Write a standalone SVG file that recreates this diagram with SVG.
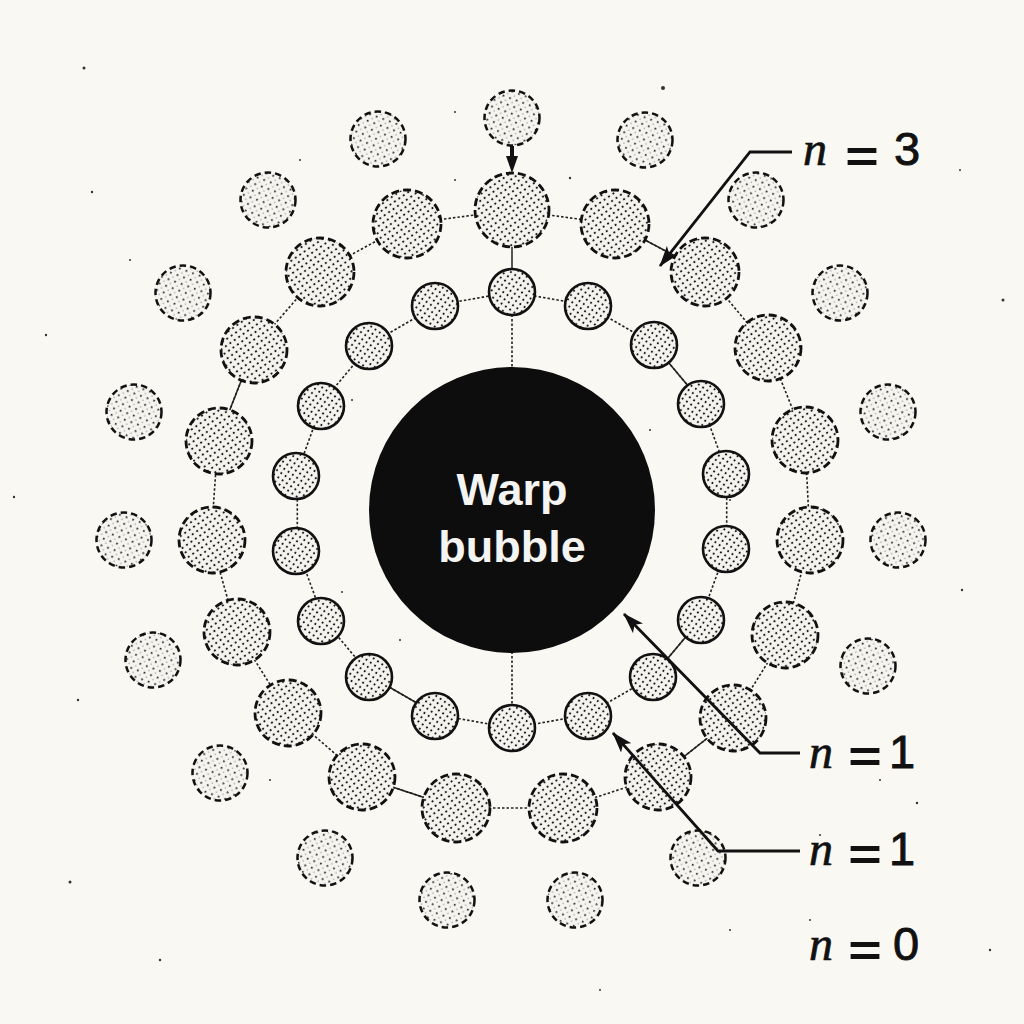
<svg xmlns="http://www.w3.org/2000/svg" width="1024" height="1024" viewBox="0 0 1024 1024">
<style>
.inner{stroke:#111;stroke-width:2.6;fill:url(#stipDense)}
.mid{stroke:#111;stroke-width:2.8;stroke-dasharray:8 4;fill:url(#stipMid)}
.outer{stroke:#111;stroke-width:2.5;stroke-dasharray:6.5 4;fill:url(#stipLight)}
.link{stroke:#222;stroke-width:1.6;stroke-dasharray:2.5 2;fill:none}
.solid{stroke:#222;stroke-width:1.5;fill:none}
.leader{stroke:#111;stroke-width:2.8;fill:none}
.nv{font-family:"Liberation Serif","DejaVu Serif",serif;font-style:italic;font-size:48px;fill:#111;stroke:#111;stroke-width:0.7}
.eq{font-family:"DejaVu Sans",sans-serif;font-size:46px;fill:#111;text-anchor:middle}
.dg{font-family:"Liberation Sans",Arial,sans-serif;font-size:47px;fill:#111;stroke:#111;stroke-width:0.9}
.speck{fill:#333}
</style>
<defs>
<pattern id="stipDense" width="5.2" height="5.2" patternUnits="userSpaceOnUse" patternTransform="rotate(35)">
<rect width="5.2" height="5.2" fill="#f5f3ee"/>
<circle cx="2.6" cy="2.6" r="1.05" fill="#1a1a1a"/>
</pattern>
<pattern id="stipMid" width="5.4" height="5.4" patternUnits="userSpaceOnUse" patternTransform="rotate(55)">
<rect width="5.4" height="5.4" fill="#f5f3ee"/>
<circle cx="2.7" cy="2.7" r="1.05" fill="#1a1a1a"/>
</pattern>
<pattern id="stipLight" width="7" height="7" patternUnits="userSpaceOnUse" patternTransform="rotate(20)">
<rect width="7" height="7" fill="#f6f4ef"/>
<circle cx="1.8" cy="1.8" r="1.0" fill="#222"/>
<circle cx="5.3" cy="5.3" r="0.8" fill="#a0a0a0"/>
</pattern>
<marker id="arr" markerUnits="userSpaceOnUse" markerWidth="22" markerHeight="14" refX="20" refY="7" orient="auto">
<path d="M0,0 L21,7 L0,14 L5,7 z" fill="#111"/>
</marker>
</defs>
<rect width="1024" height="1024" fill="#faf8f3"/>
<g id="specks">
<circle class="speck" cx="84" cy="68" r="1.5"/>
<circle class="speck" cx="663" cy="88" r="2"/>
<circle class="speck" cx="92" cy="192" r="1.2"/>
<circle class="speck" cx="46" cy="335" r="1.2"/>
<circle class="speck" cx="1003" cy="300" r="1.5"/>
<circle class="speck" cx="962" cy="590" r="1.2"/>
<circle class="speck" cx="14" cy="497" r="1.2"/>
<circle class="speck" cx="78" cy="700" r="1.2"/>
<circle class="speck" cx="70" cy="882" r="1.5"/>
<circle class="speck" cx="917" cy="803" r="1.2"/>
<circle class="speck" cx="890" cy="420" r="1"/>
<circle class="speck" cx="455" cy="112" r="1"/>
<circle class="speck" cx="570" cy="178" r="1.2"/>
<circle class="speck" cx="455" cy="180" r="1"/>
<circle class="speck" cx="352" cy="400" r="1"/>
<circle class="speck" cx="730" cy="500" r="1"/>
<circle class="speck" cx="342" cy="592" r="1"/>
<circle class="speck" cx="810" cy="920" r="1"/>
<circle class="speck" cx="160" cy="960" r="1.2"/>
<circle class="speck" cx="730" cy="930" r="1"/>
<circle class="speck" cx="820" cy="835" r="1"/>
<circle class="speck" cx="880" cy="780" r="1"/>
<circle class="speck" cx="400" cy="640" r="1"/>
<circle class="speck" cx="650" cy="430" r="1"/>
<circle class="speck" cx="270" cy="780" r="1"/>
<circle class="speck" cx="960" cy="170" r="1"/>
<circle class="speck" cx="130" cy="260" r="1"/>
<circle class="speck" cx="300" cy="160" r="1"/>
<circle class="speck" cx="600" cy="990" r="1"/>
<circle class="speck" cx="990" cy="950" r="1.2"/>
</g>
<g id="connectors">
<polyline class="link" points="512,292 586.6,305.1 652.1,343 700.8,401 726.7,472.1 726.7,547.9 700.8,619 652.1,677 586.6,714.9 512,728 437.4,714.9 371.9,677 323.2,619 297.3,547.9 297.3,472.1 323.2,401 371.9,343 437.4,305.1 512,292"/>
<line class="solid" x1="652.1" y1="677" x2="700.8" y2="619"/>
<line class="solid" x1="371.9" y1="677" x2="437.4" y2="714.9"/>
<line class="solid" x1="652.1" y1="343" x2="700.8" y2="401"/>
<polyline class="link" points="512,210 615,224 705,272 768,348 805,440 810,540 785,635 733,718 658,777 563,808 456,808 362,777 288,713 237,632 211,540 218,440 254,348 320,272 407,224 512,210"/>
<line class="solid" x1="615" y1="224" x2="705" y2="272"/>
<line class="solid" x1="733" y1="718" x2="658" y2="777"/>
<line class="solid" x1="254" y1="348" x2="218" y2="440"/>
<line class="solid" x1="362" y1="777" x2="456" y2="808"/>
<line class="solid" x1="512" y1="210" x2="512" y2="292"/>
<line class="link" x1="512" y1="292" x2="512" y2="400"/>
<line class="link" x1="512" y1="620" x2="512" y2="728"/>
<line x1="512" y1="146" x2="512" y2="160" stroke="#111" stroke-width="4"/>
<path d="M506,156 L518,156 L512,173 z" fill="#111"/>
</g>
<g id="bubble">
<circle cx="512" cy="510" r="143" fill="#0d0d0d"/>
<text x="512" y="505" font-family="Liberation Sans, Arial, sans-serif" font-weight="bold" font-size="45" fill="#f4f4f2" text-anchor="middle">Warp</text>
<text x="512" y="562" font-family="Liberation Sans, Arial, sans-serif" font-weight="bold" font-size="45" fill="#f4f4f2" text-anchor="middle">bubble</text>
</g>
<g id="inner-ring">
<circle class="inner" cx="512" cy="292" r="23"/>
<circle class="inner" cx="588" cy="306" r="23"/>
<circle class="inner" cx="654" cy="345" r="23"/>
<circle class="inner" cx="701" cy="404" r="23"/>
<circle class="inner" cx="726" cy="474" r="23"/>
<circle class="inner" cx="726" cy="549" r="23"/>
<circle class="inner" cx="701" cy="620" r="23"/>
<circle class="inner" cx="653" cy="677" r="23"/>
<circle class="inner" cx="588" cy="716" r="23"/>
<circle class="inner" cx="512" cy="728" r="23"/>
<circle class="inner" cx="435" cy="716" r="23"/>
<circle class="inner" cx="369" cy="677" r="23"/>
<circle class="inner" cx="321" cy="621" r="23"/>
<circle class="inner" cx="296" cy="551" r="23"/>
<circle class="inner" cx="296" cy="476" r="23"/>
<circle class="inner" cx="321" cy="406" r="23"/>
<circle class="inner" cx="369" cy="346" r="23"/>
<circle class="inner" cx="435" cy="306" r="23"/>
</g>
<g id="middle-ring">
<circle class="mid" cx="512" cy="210" r="37"/>
<circle class="mid" cx="615" cy="224" r="34"/>
<circle class="mid" cx="705" cy="272" r="34"/>
<circle class="mid" cx="768" cy="348" r="33"/>
<circle class="mid" cx="805" cy="440" r="33"/>
<circle class="mid" cx="810" cy="540" r="33"/>
<circle class="mid" cx="785" cy="635" r="33"/>
<circle class="mid" cx="733" cy="718" r="33"/>
<circle class="mid" cx="658" cy="777" r="33"/>
<circle class="mid" cx="563" cy="808" r="34"/>
<circle class="mid" cx="456" cy="808" r="34"/>
<circle class="mid" cx="362" cy="777" r="33"/>
<circle class="mid" cx="288" cy="713" r="33"/>
<circle class="mid" cx="237" cy="632" r="33"/>
<circle class="mid" cx="212" cy="540" r="33"/>
<circle class="mid" cx="219" cy="441" r="33"/>
<circle class="mid" cx="254" cy="350" r="33"/>
<circle class="mid" cx="320" cy="272" r="34"/>
<circle class="mid" cx="407" cy="224" r="34"/>
</g>
<g id="outer-ring">
<circle class="outer" cx="512" cy="118" r="27.5"/>
<circle class="outer" cx="378" cy="139" r="27.5"/>
<circle class="outer" cx="645" cy="140" r="27.5"/>
<circle class="outer" cx="268" cy="200" r="27.5"/>
<circle class="outer" cx="756" cy="200" r="27.5"/>
<circle class="outer" cx="183" cy="293" r="27.5"/>
<circle class="outer" cx="840" cy="293" r="27.5"/>
<circle class="outer" cx="134" cy="412" r="27.5"/>
<circle class="outer" cx="888" cy="412" r="27.5"/>
<circle class="outer" cx="124" cy="540" r="27.5"/>
<circle class="outer" cx="898" cy="540" r="27.5"/>
<circle class="outer" cx="153" cy="660" r="27.5"/>
<circle class="outer" cx="868" cy="666" r="27.5"/>
<circle class="outer" cx="220" cy="773" r="27.5"/>
<circle class="outer" cx="325" cy="858" r="27.5"/>
<circle class="outer" cx="698" cy="858" r="27.5"/>
<circle class="outer" cx="447" cy="900" r="27.5"/>
<circle class="outer" cx="575" cy="900" r="27.5"/>
</g>
<g id="labels">
<polyline class="leader" points="792,152 750,152 660,266" marker-end="url(#arr)"/>
<polyline class="leader" points="800,753 760,753 624,614" marker-end="url(#arr)"/>
<polyline class="leader" points="800,851 718,851 613,733" marker-end="url(#arr)"/>
<g id="label-n3">
<text class="nv" x="803" y="165">n</text>
<text class="eq" transform="translate(862,154) scale(1,1.3)" x="0" y="16.3">=</text>
<text class="dg" x="894" y="165">3</text>
</g>
<g id="label-n1a">
<text class="nv" x="809" y="768">n</text>
<text class="eq" transform="translate(865,754) scale(1,1.3)" x="0" y="16.3">=</text>
<text class="dg" x="889" y="768">1</text>
</g>
<g id="label-n1b">
<text class="nv" x="809" y="865">n</text>
<text class="eq" transform="translate(865,852) scale(1,1.3)" x="0" y="16.3">=</text>
<text class="dg" x="889" y="865">1</text>
</g>
<g id="label-n0">
<text class="nv" x="809" y="960">n</text>
<text class="eq" transform="translate(865,948) scale(1,1.3)" x="0" y="16.3">=</text>
<text class="dg" x="893" y="960">0</text>
</g>
</g>
</svg>
